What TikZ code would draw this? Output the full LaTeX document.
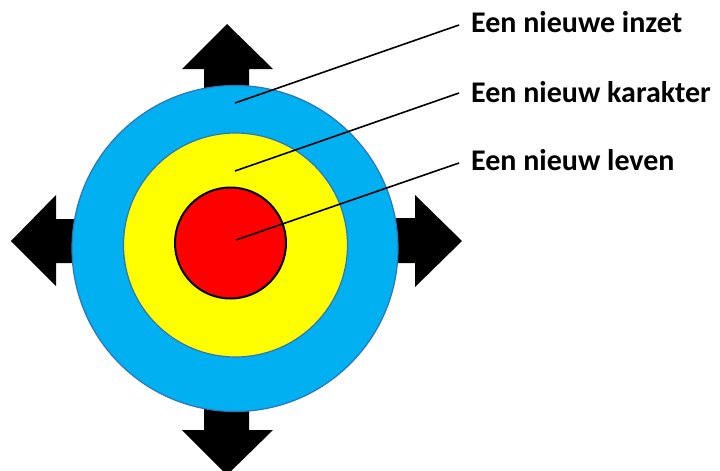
\documentclass[tikz,border=0pt]{standalone}
\usepackage{fontspec}
\setmainfont{Carlito}
\begin{document}
\begin{tikzpicture}[x=1pt,y=-1pt,
  arrowshape/.style={fill=black,draw=none},
  ring/.style={circle,inner sep=0pt,line width=1.2pt,draw={rgb,255:red,46;green,117;blue,182}},
  label/.style={anchor=base west,inner sep=0pt,font=\fontsize{30}{36}\selectfont\bfseries},
  leader/.style={line width=1.6pt,draw=black}
]
\useasboundingbox (0,0) rectangle (720,471);
% arrows
\fill[arrowshape] (227,24) -- (273,69) -- (249,69) -- (249,130) -- (204,130) -- (204,69) -- (182,69) -- cycle;
\fill[arrowshape] (11,241) -- (56,195) -- (56,219) -- (130,219) -- (130,263) -- (56,263) -- (56,286) -- cycle;
\fill[arrowshape] (462,241) -- (415,195) -- (415,218) -- (340,218) -- (340,263) -- (415,263) -- (415,287) -- cycle;
\fill[arrowshape] (227,475) -- (273,430) -- (249,430) -- (249,360) -- (204,360) -- (204,430) -- (182,430) -- cycle;
% circles
\node[ring,fill={rgb,255:red,0;green,176;blue,240},minimum size=326pt] (blue) at (235,248.5) {};
\node[ring,fill={rgb,255:red,255;green,255;blue,0},minimum size=224pt] (yellow) at (235.5,245) {};
\node[circle,inner sep=0pt,line width=2pt,draw=black,fill={rgb,255:red,255;green,0;blue,0},minimum size=111pt] (red) at (230.5,243) {};
% labels
\node[label] (t1) at (471,32) {Een nieuwe inzet};
\node[label] (t2) at (471,102) {Een nieuw karakter};
\node[label] (t3) at (471,170) {Een nieuw leven};
% leader lines
\coordinate (s1) at (235,103);
\coordinate (s2) at (235,171);
\coordinate (s3) at (236,240);
\coordinate (e1) at (459,25);
\coordinate (e2) at (459,93);
\coordinate (e3) at (459,163);
\draw[leader] (s1) -- (e1);
\draw[leader] (s2) -- (e2);
\draw[leader] (s3) -- (e3);
\end{tikzpicture}
\end{document}
